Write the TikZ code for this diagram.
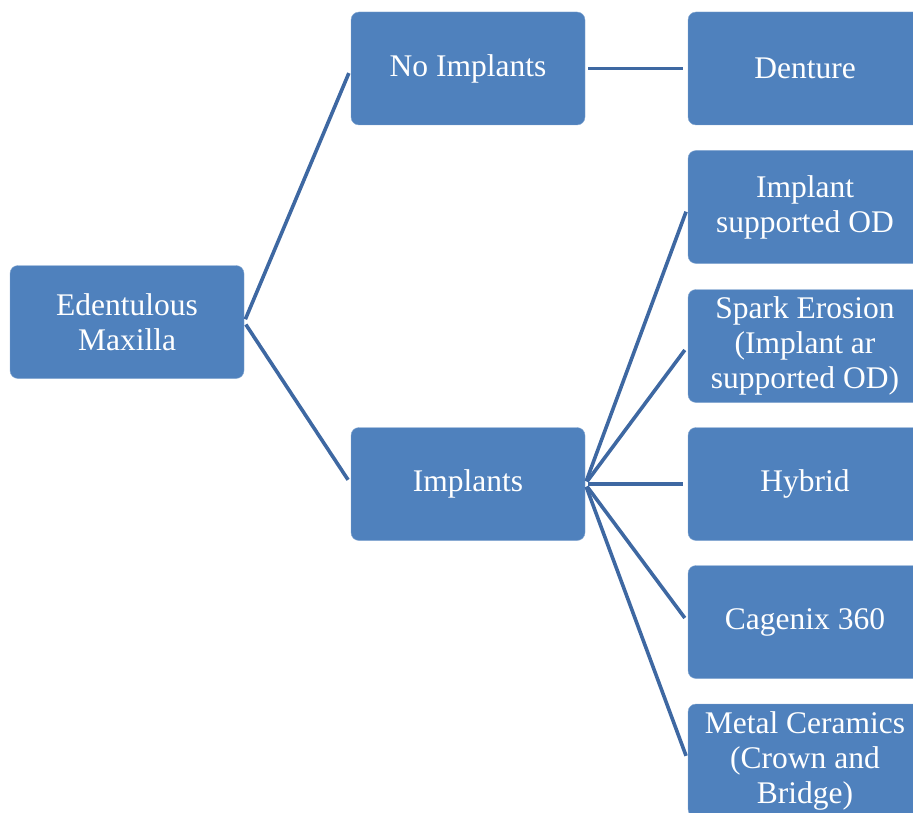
\documentclass[tikz,border=0pt]{standalone}
\usepackage{fontspec}
\setmainfont{Liberation Serif}
\usepackage{tikz}
\definecolor{boxblue}{RGB}{79,129,189}
\definecolor{lineblue}{RGB}{62,104,162}

\begin{document}
\begin{tikzpicture}[x=1pt,y=-1pt]
		\clip (0,0) rectangle (913,813);
		\begin{scope}[every node/.style={rectangle,rounded corners=8pt,fill=boxblue,
		              draw=boxblue!70!white,thin,text=white,align=center,
		              minimum width=234pt,minimum height=113pt,inner sep=0pt,
		              font=\fontsize{31.5}{35}\selectfont}]
			\node (edent) at (127,322) {Edentulous\\Maxilla};
			\node (noimp) at (468,68.5) {No Implants};
			\node (imp) at (468,484) {Implants};
			\node (denture) at (805,68.5) {Denture};
			\node (impod) at (805,207) {Implant\\supported OD};
			\node (spark) at (805,346) {Spark Erosion\\(Implant ar\\supported OD)};
			\node (hybrid) at (805,484) {Hybrid};
			\node (cagenix) at (805,622) {Cagenix 360};
			\node (metal) at (805,760.5) {Metal Ceramics\\(Crown and\\Bridge)};
		\end{scope}

		\begin{scope}[every edge/.style={draw=lineblue,line width=3.6pt,
		              shorten <=3pt,shorten >=5pt}]
			\path (edent.east) edge (noimp.west);
			\path (edent.east) edge (imp.west);
			\path (noimp.east) edge (denture.west);
			\path (imp.east) edge (impod.west);
			\path (imp.east) edge (spark.west);
			\path (imp.east) edge (hybrid.west);
			\path (imp.east) edge (cagenix.west);
			\path (imp.east) edge (metal.west);
		\end{scope}
\end{tikzpicture}
\end{document}
